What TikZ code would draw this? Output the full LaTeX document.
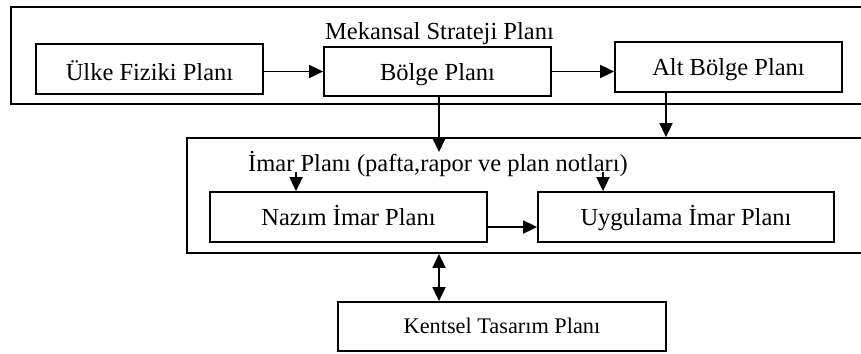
\documentclass[tikz,border=0pt]{standalone}
\usepackage{fontspec}
\setmainfont{Liberation Serif}
\usetikzlibrary{arrows.meta,calc}
\tikzset{
  box/.style={draw=black, line width=1.8pt, rectangle, inner sep=0pt, fill=white,
    font=\fontsize{24.5}{28}\selectfont, text height=16pt, text depth=0pt},
  frame/.style={draw=black, line width=1.8pt, rectangle, inner sep=0pt},
  lbl/.style={inner sep=0pt, anchor=base, font=\fontsize{24.5}{28}\selectfont},
  arr/.style={line width=1.8pt, -{Triangle[length=14pt,width=13pt]}},
  darr/.style={line width=1.8pt, {Triangle[length=14pt,width=13pt]}-{Triangle[length=14pt,width=13pt]}},
}
\begin{document}
\begin{tikzpicture}[x=1pt,y=-1pt]
\useasboundingbox (0,0) rectangle (861,353);
\clip (0,0) rectangle (861,353);
% containers
\node[frame, minimum width=869pt, minimum height=97pt] (outer) at (445.5,55.5) {};
\node[frame, minimum width=693pt, minimum height=115pt] (imar) at (533.5,195.5) {};
% labels
\node[lbl] (mek) at (439.5,40) {Mekansal Strateji Planı};
\node[lbl] (imartxt) at (438,171) {İmar Planı (pafta,rapor ve plan notları)};
% boxes
\node[box, minimum width=227pt, minimum height=50pt, text height=22pt] (ulke) at (149.5,69) {Ülke Fiziki Planı};
\node[box, minimum width=227pt, minimum height=49pt, text height=17pt] (bolge) at (437.5,71.5) {Bölge Planı};
\node[box, minimum width=227pt, minimum height=50pt] (alt) at (728.5,67) {Alt Bölge Planı};
\node[box, minimum width=277pt, minimum height=50pt] (nazim) at (348.5,217) {Nazım İmar Planı};
\node[box, minimum width=296pt, minimum height=50pt] (uyg) at (686,217) {Uygulama İmar Planı};
\node[box, minimum width=328pt, minimum height=49pt, text height=13pt,
  font=\fontsize{22.3}{26}\selectfont] (kent) at (502,326.5) {Kentsel Tasarım Planı};
% connectors
\draw[arr] (ulke.east |- bolge.west) -- (bolge.west);
\draw[arr] (bolge.east) -- (alt.west |- bolge.east);
\coordinate (bdown) at (439,152);
\draw[arr] (bolge.south -| bdown) -- (bdown);
\coordinate (adown) at (666,138);
\draw[arr] (alt.south -| adown) -- (imar.north -| adown);
\coordinate (ns) at (296,172);
\draw[arr] (ns) -- (nazim.north -| ns);
\coordinate (us) at (603,172);
\draw[arr] (us) -- (uyg.north -| us);
\coordinate (nu) at (487,227);
\draw[arr] (nazim.east |- nu) -- (uyg.west |- nu);
\coordinate (kx) at (439,280);
\draw[darr] (imar.south -| kx) -- (kent.north -| kx);
\end{tikzpicture}
\end{document}
